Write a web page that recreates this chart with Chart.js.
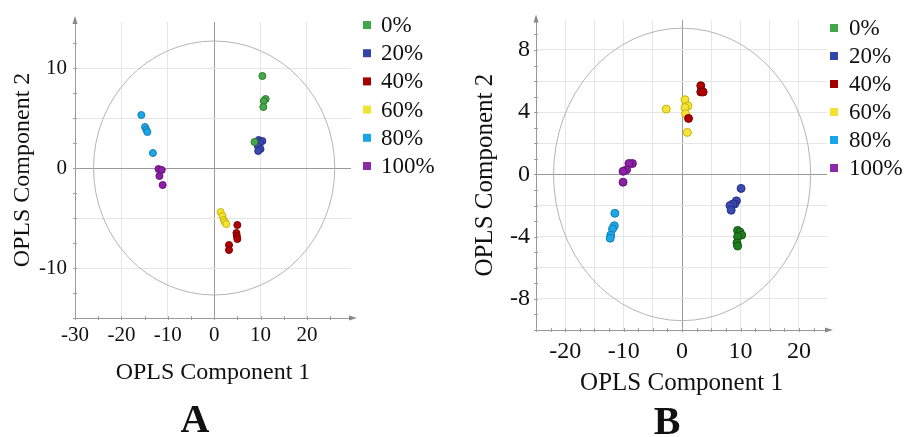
<!DOCTYPE html>
<html>
<head>
<meta charset="utf-8">
<script src="https://cdn.jsdelivr.net/npm/chart.js@4.4.1/dist/chart.umd.min.js"></script>
<style>
  html, body { margin: 0; padding: 0; background: #fff; }
  .panel { position: absolute; top: 0; }
</style>
</head>
<body>
<div class="panel" style="left:0"><canvas id="chartA" width="460" height="437"></canvas></div>
<div class="panel" style="left:460px"><canvas id="chartB" width="446" height="437"></canvas></div>
<script>
// groups (legend)
const groups = ['0%', '20%', '40%', '60%', '80%', '100%'];

// panel A scores [component 1, component 2]
const scoresA0 = [[10.4, 9.2], [11.1, 6.9], [10.7, 6.7], [10.6, 6.1], [8.7, 2.6]];
const scoresA20 = [[9.6, 2.8], [10.4, 2.7], [9.9, 2.5], [9.4, 2.2], [10, 1.9], [9.5, 1.7]];
const scoresA40 = [[5, -5.7], [4.8, -6.5], [4.9, -6.8], [5, -7.1], [3.2, -7.7], [3.2, -8.2]];
const scoresA60 = [[1.4, -4.4], [1.8, -4.8], [2.1, -5.2], [2.3, -5.4], [2.6, -5.6]];
const scoresA80 = [[-15.7, 5.3], [-14.9, 4.1], [-14.6, 3.8], [-14.4, 3.6], [-13.2, 1.5]];
const scoresA100 = [[-12, -0.1], [-11.3, -0.2], [-11.8, -0.8], [-11.1, -1.7]];

// panel B scores
const scoresB0 = [[9.5, -3.6], [9.9, -3.7], [10.2, -3.9], [9.5, -4.0], [9.4, -4.4], [9.5, -4.6]];
const scoresB20 = [[10.1, -0.9], [9.3, -1.7], [9, -1.9], [8.7, -1.9], [8.2, -2.0], [8.4, -2.3]];
const scoresB40 = [[3.2, 5.7], [3.2, 5.3], [3.6, 5.3], [1.1, 3.6]];
const scoresB60 = [[-2.7, 4.2], [0.5, 4.8], [1.0, 4.4], [0.5, 4.3], [0.6, 3.9], [0.9, 2.7]];
const scoresB80 = [[-11.5, -2.5], [-11.6, -3.3], [-11.9, -3.5], [-12.2, -3.9], [-12.3, -4.1]];
const scoresB100 = [[-8.5, 0.7], [-9.1, 0.7], [-9.5, 0.3], [-10.1, 0.2], [-10.1, -0.5]];

// axis ticks
const xTicksA = [-30, -20, -10, 0, 10, 20];
const yTicksA = [-15, -10, -5, 0, 5, 10];
const yLabelsA = [-10, 0, 10];
const xTicksB = [-25, -20, -15, -10, -5, 0, 5, 10, 15, 20];
const xLabelsB = [-20, -10, 0, 10, 20];
const yTicksB = [-10, -8, -6, -4, -2, 0, 2, 4, 6, 8];
const yLabelsB = [-8, -4, 0, 4, 8];

// Hotelling ellipse semi-axes (in score units)
const ellipseA = [26, 12.7];
const ellipseB = [22, 9.4];

const legendColors = ['#3fa84a', '#3244a8', '#a50000', '#f2e233', '#19a6e8', '#8a2aa6'];
const pointColorsA = ['#46a846', '#3a4ab0', '#b00000', '#f4e43a', '#1ea7e6', '#8b1fa6'];
const pointColorsB = ['#1f7f1f', '#3a4ab0', '#b00000', '#f4e43a', '#1ea7e6', '#8b1fa6'];
const borderColors = ['#2c7a2c', '#26308a', '#7a0000', '#c9b400', '#1380b8', '#65127a'];
const borderColorsB = ['#125512', '#26308a', '#7a0000', '#c9b400', '#1380b8', '#65127a'];

const SERIF = "'Liberation Serif', 'Times New Roman', serif";

let toPoints = arr => arr.map(p => ({ x: p[0], y: p[1] }));

let makeDatasets = (lists, fills, borders, radius) => lists.map((list, i) => ({
    label: groups[i],
    data: toPoints(list),
    backgroundColor: fills[i],
    borderColor: borders[i],
    borderWidth: 1,
    pointRadius: radius,
    pointHoverRadius: radius
}));

// ellipse, minor axis ticks, arrows, legend and panel letter
let decorPlugin = {
    id: 'decor',
    beforeDatasetsDraw(chart, args, opts) {
        const { ctx, chartArea, scales } = chart;
        const cx = scales.x.getPixelForValue(0);
        const cy = scales.y.getPixelForValue(0);
        const rx = Math.abs(scales.x.getPixelForValue(opts.ellipse[0]) - cx);
        const ry = Math.abs(scales.y.getPixelForValue(opts.ellipse[1]) - cy);
        ctx.save();
        ctx.strokeStyle = '#b4b4b4';
        ctx.lineWidth = 1;
        ctx.beginPath();
        ctx.ellipse(cx, cy, rx, ry, 0, 0, Math.PI * 2);
        ctx.stroke();
        // minor tick marks on the axes
        ctx.strokeStyle = '#a0a0a0';
        ctx.beginPath();
        for (let v = scales.x.min; v <= scales.x.max; v += opts.minorX) {
            const px = Math.round(scales.x.getPixelForValue(v)) + 0.5;
            ctx.moveTo(px, chartArea.bottom - 2);
            ctx.lineTo(px, chartArea.bottom + 2);
        }
        for (let v = scales.y.min; v <= scales.y.max; v += opts.minorY) {
            const py = Math.round(scales.y.getPixelForValue(v)) + 0.5;
            ctx.moveTo(chartArea.left - 2, py);
            ctx.lineTo(chartArea.left + 2, py);
        }
        ctx.stroke();
        // arrows
        ctx.fillStyle = '#888';
        ctx.beginPath();
        ctx.moveTo(chartArea.right + 6, chartArea.bottom);
        ctx.lineTo(chartArea.right - 2, chartArea.bottom - 2.5);
        ctx.lineTo(chartArea.right - 2, chartArea.bottom + 2.5);
        ctx.fill();
        ctx.beginPath();
        ctx.moveTo(chartArea.left, chartArea.top - 6);
        ctx.lineTo(chartArea.left - 2.5, chartArea.top + 2);
        ctx.lineTo(chartArea.left + 2.5, chartArea.top + 2);
        ctx.fill();
        ctx.restore();
    },
    afterDraw(chart, args, opts) {
        const { ctx } = chart;
        ctx.save();
        ctx.font = opts.legendFont;
        ctx.textBaseline = 'middle';
        ctx.textAlign = 'left';
        chart.data.datasets.forEach((ds, i) => {
            const y = opts.legendTop + i * opts.legendStep;
            ctx.fillStyle = legendColors[i];
            ctx.fillRect(opts.legendX - 4, y - 4, 8, 8);
            ctx.fillStyle = '#111';
            ctx.fillText(ds.label, opts.legendTextX, y + 1);
        });
        ctx.font = 'bold 40px ' + SERIF;
        ctx.textAlign = 'center';
        ctx.textBaseline = 'alphabetic';
        ctx.fillText(opts.letter, opts.letterX, opts.letterY);
        ctx.restore();
    }
};

let makeOptions = cfg => ({
    responsive: false,
    animation: false,
    layout: { padding: cfg.padding },
    plugins: {
        legend: { display: false },
        tooltip: { enabled: false },
        decor: cfg.decor
    },
    scales: {
        x: {
            type: 'linear',
            min: cfg.xRange[0],
            max: cfg.xRange[1],
            afterBuildTicks: s => { s.ticks = cfg.xTicks.map(v => ({ value: v })); },
            afterFit: s => { s.height = cfg.xHeight; },
            grid: {
                color: c => c.tick && c.tick.value === 0 ? '#9a9a9a' : '#e6e6e6',
                drawTicks: false
            },
            border: { color: '#9a9a9a' },
            ticks: {
                autoSkip: false,
                maxRotation: 0,
                padding: cfg.xTickPad,
                color: '#111',
                font: { family: SERIF, size: cfg.tickSize },
                callback: v => cfg.xLabels.includes(v) ? String(v) : ''
            },
            title: {
                display: true,
                text: 'OPLS Component 1',
                color: '#111',
                font: { family: SERIF, size: cfg.titleSize },
                padding: { top: 0, bottom: cfg.xTitlePad }
            }
        },
        y: {
            type: 'linear',
            min: cfg.yRange[0],
            max: cfg.yRange[1],
            afterBuildTicks: s => { s.ticks = cfg.yTicks.map(v => ({ value: v })); },
            afterFit: s => { s.width = cfg.yWidth; },
            grid: {
                color: c => c.tick && c.tick.value === 0 ? '#9a9a9a' : '#e6e6e6',
                drawTicks: false
            },
            border: { color: '#9a9a9a' },
            ticks: {
                autoSkip: false,
                padding: cfg.yTickPad,
                color: '#111',
                font: { family: SERIF, size: cfg.tickSize },
                callback: v => cfg.yLabels.includes(v) ? String(v) : ''
            },
            title: {
                display: true,
                text: 'OPLS Component 2',
                color: '#111',
                font: { family: SERIF, size: cfg.titleSize },
                padding: { top: cfg.yTitlePad, bottom: 0 }
            }
        }
    }
});

let StartFunc = () => {
    new Chart(document.getElementById('chartA'), {
        type: 'scatter',
        data: {
            datasets: makeDatasets(
                [scoresA0, scoresA20, scoresA40, scoresA60, scoresA80, scoresA100],
                pointColorsA, borderColors, 3.5)
        },
        options: makeOptions({
            padding: { left: 0, top: 22, right: 109, bottom: 0 },
            xRange: [-30, 29.5], yRange: [-15, 14.6],
            xTicks: xTicksA, xLabels: xTicksA,
            yTicks: yTicksA, yLabels: yLabelsA,
            xHeight: 119, yWidth: 75,
            tickSize: 21, titleSize: 24,
            xTickPad: 5, yTickPad: 8,
            xTitlePad: 50, yTitlePad: 8,
            decor: {
                ellipse: ellipseA, minorX: 5, minorY: 2.5,
                legendX: 367, legendTextX: 381, legendTop: 25, legendStep: 28.2,
                legendFont: '23px ' + SERIF,
                letter: 'A', letterX: 195, letterY: 432
            }
        }),
        plugins: [decorPlugin]
    });

    new Chart(document.getElementById('chartB'), {
        type: 'scatter',
        data: {
            datasets: makeDatasets(
                [scoresB0, scoresB20, scoresB40, scoresB60, scoresB80, scoresB100],
                pointColorsB, borderColorsB, 4)
        },
        options: makeOptions({
            padding: { left: 0, top: 15, right: 79, bottom: 0 },
            xRange: [-25, 24.8], yRange: [-10, 9.9],
            xTicks: xTicksB, xLabels: xLabelsB,
            yTicks: yTicksB, yLabels: yLabelsB,
            xHeight: 107, yWidth: 76,
            tickSize: 24, titleSize: 25,
            xTickPad: 7, yTickPad: 6,
            xTitlePad: 39, yTitlePad: 10,
            decor: {
                ellipse: ellipseB, minorX: 2.5, minorY: 1,
                legendX: 374, legendTextX: 389, legendTop: 28, legendStep: 28,
                legendFont: '23px ' + SERIF,
                letter: 'B', letterX: 207, letterY: 434
            }
        }),
        plugins: [decorPlugin]
    });
};

StartFunc();
</script>
</body>
</html>
